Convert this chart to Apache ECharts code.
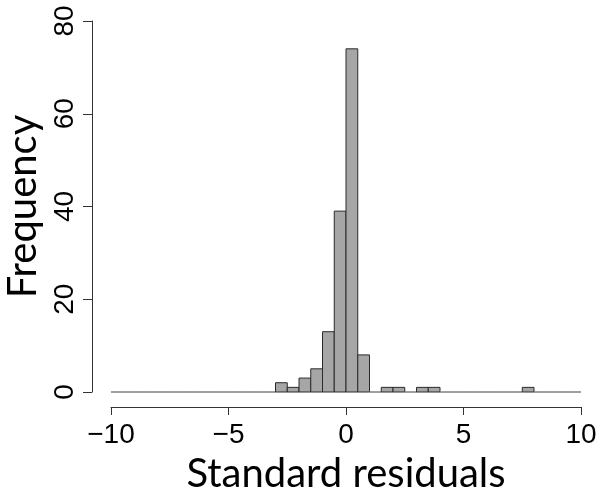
<!DOCTYPE html>
<html>
<head>
<meta charset="utf-8">
<script src="https://cdn.jsdelivr.net/npm/echarts@6/dist/echarts.min.js"></script>
<style>
  html, body { margin: 0; padding: 0; background: #fff; }
  #chart { width: 606px; height: 494px; }
</style>
</head>
<body>
<div id="chart"></div>
<script>
// Histogram bins (left edge, width 0.5) and their counts
const binWidth = 0.5;
const binStarts = [
  -10, -9.5, -9, -8.5, -8, -7.5, -7, -6.5, -6, -5.5,
  -5, -4.5, -4, -3.5, -3, -2.5, -2, -1.5, -1, -0.5,
  0, 0.5, 1, 1.5, 2, 2.5, 3, 3.5, 4, 4.5,
  5, 5.5, 6, 6.5, 7, 7.5, 8, 8.5, 9, 9.5
];
const counts = [
  0, 0, 0, 0, 0, 0, 0, 0, 0, 0,
  0, 0, 0, 0, 2, 1, 3, 5, 13, 39,
  74, 8, 0, 1, 1, 0, 1, 1, 0, 0,
  0, 0, 0, 0, 0, 1, 0, 0, 0, 0
];
const xTicks = [-10, -5, 0, 5, 10];
const yTicks = [0, 20, 40, 60, 80];

const data = binStarts.map((s, i) => [s, s + binWidth, counts[i]]);

const tickFont = 'Liberation Sans, Arial, sans-serif';
const titleFont = 'Lato, "Open Sans", sans-serif';
const fmt = v => String(v).replace('-', '\u2212');

const chart = echarts.init(document.getElementById('chart'), null, { renderer: 'canvas' });
chart.setOption({
  animation: false,
  backgroundColor: '#ffffff',
  grid: { left: 111, right: 25, top: 21, bottom: 102, containLabel: false, outerBoundsMode: 'none' },
  xAxis: {
    type: 'value',
    min: xTicks[0], max: xTicks[xTicks.length - 1], interval: 5,
    offset: 15,
    splitLine: { show: false },
    axisLine: { show: true, onZero: false, lineStyle: { color: '#333', width: 1 } },
    axisTick: { show: true, length: 8, lineStyle: { color: '#333', width: 1 } },
    axisLabel: { fontFamily: tickFont, fontSize: 28, color: '#000', margin: 14, formatter: fmt, hideOverlap: false },
    name: 'Standard residuals',
    nameLocation: 'middle',
    nameGap: 47,
    nameTextStyle: { fontFamily: titleFont, fontSize: 40, color: '#000' }
  },
  yAxis: {
    type: 'value',
    min: yTicks[0], max: yTicks[yTicks.length - 1], interval: 20,
    offset: 19,
    splitLine: { show: false },
    axisLine: { show: true, onZero: false, lineStyle: { color: '#333', width: 1 } },
    axisTick: { show: true, length: 9, lineStyle: { color: '#333', width: 1 } },
    axisLabel: { fontFamily: tickFont, fontSize: 28, color: '#000', margin: 13, rotate: 90, formatter: fmt },
    name: 'Frequency',
    nameLocation: 'middle',
    nameRotate: 90,
    nameGap: 46,
    nameTextStyle: { fontFamily: titleFont, fontSize: 40, color: '#000' }
  },
  series: [{
    type: 'custom',
    clip: false,
    data: data,
    encode: { x: [0, 1], y: 2 },
    renderItem: function (params, api) {
      const x0 = api.value(0), x1 = api.value(1), c = api.value(2);
      const p0 = api.coord([x0, c]);
      const p1 = api.coord([x1, 0]);
      return {
        type: 'rect',
        shape: { x: p0[0], y: p0[1], width: p1[0] - p0[0], height: p1[1] - p0[1] },
        style: {
          fill: '#a6a6a6',
          stroke: c === 0 ? '#808080' : '#2a2a2a',
          lineWidth: 1
        }
      };
    }
  }]
});
</script>
</body>
</html>
